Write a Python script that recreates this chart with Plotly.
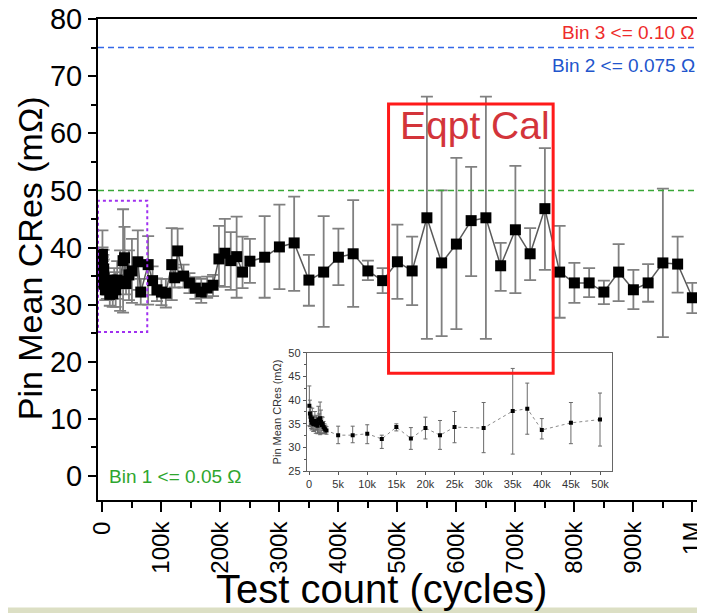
import plotly.graph_objects as go

# ---------------- data (test count in thousands of cycles, resistance in mOhm) ----------------
cycles_k = [0.05, 0.15, 0.25, 0.35, 0.45, 0.55, 0.7, 0.85, 1.0, 1.15, 1.3, 1.45, 1.6, 1.75, 1.9,
            2.05, 2.2, 2.35, 2.5, 2.65, 2.8, 3.0,
            5, 7.5, 10, 12.5, 15, 17.5, 20, 22.5, 25, 30, 35, 37.5, 40, 45, 50,
            60, 65, 77.5, 85, 92.5, 100, 107.5, 117.5, 122.5, 127.5, 137.5, 147.5, 157.5, 167.5,
            177.5, 187.5, 197.5, 207.5, 217.5, 227.5, 237.5, 250, 275, 300, 325, 350, 375, 400,
            425, 450, 475, 500, 525, 550, 575, 600, 625, 650, 675, 700, 725, 750, 775, 800, 825,
            850, 875, 900, 925, 950, 975, 1000]
mean_cres = [38.8, 37.2, 36.5, 35.8, 35.2, 36.1, 35.0, 34.9, 35.6, 34.8, 35.3, 34.6, 35.9, 35.1, 36.2,
             35.4, 34.7, 35.0, 34.3, 34.0, 33.8, 33.6,
             32.6, 32.6, 32.9, 31.8, 34.3, 31.9, 34.1, 32.6, 34.3, 34.1, 37.7, 38.2, 33.7, 35.2, 35.9,
             37.5, 32.2, 37.0, 34.2, 32.6, 32.2, 32.0, 37.0, 34.7, 39.4, 35.0, 33.8, 32.9, 32.2,
             32.9, 33.4, 38.0, 39.0, 37.7, 38.4, 35.7, 37.6, 38.3, 40.1, 40.8, 34.3, 35.7, 38.3,
             38.9, 35.9, 34.2, 37.5, 35.9, 45.2, 37.3, 40.6, 44.7, 45.2, 36.8, 43.1, 38.9, 46.8, 35.7, 33.8, 33.8,
             32.2, 35.7, 32.6, 33.8, 37.3, 37.1, 31.2]
err_upper = [43.0, 40.0, 38.5, 37.6, 36.8, 38.3, 36.6, 36.4, 37.6, 36.6, 36.8, 36.3, 38.7, 37.1, 39.6,
             37.9, 36.5, 36.4, 35.5, 35.0, 34.7, 34.4,
             34.5, 34.5, 34.8, 32.6, 35.0, 34.2, 36.4, 35.7, 37.6, 39.5, 46.7, 43.6, 36.1, 39.5, 41.5,
             43.0, 34.5, 42.0, 36.7, 34.6, 34.5, 34.5, 43.4, 36.5, 43.3, 37.0, 35.5, 34.8, 34.5,
             34.9, 35.2, 43.8, 45.0, 42.7, 45.4, 41.9, 41.5, 45.5, 47.5, 48.9, 38.7, 45.5, 43.3,
             48.3, 37.7, 36.4, 44.0, 41.9, 66.4, 50.0, 55.7, 54.1, 66.4, 40.8, 54.3, 43.4, 57.4, 43.8, 37.3, 36.4,
             34.2, 40.6, 36.1, 37.1, 50.3, 41.9, 33.8]
err_lower = [34.6, 34.4, 34.5, 34.0, 33.7, 33.9, 33.4, 33.4, 33.6, 33.0, 33.8, 32.9, 33.1, 33.1, 32.7,
             32.9, 32.9, 33.6, 33.1, 33.0, 32.9, 32.8,
             30.8, 31.0, 30.8, 29.8, 33.5, 29.6, 31.8, 29.6, 31.0, 28.9, 28.6, 32.8, 31.8, 30.8, 30.3,
             32.6, 30.0, 30.0, 31.7, 30.6, 29.9, 29.5, 30.8, 33.0, 34.3, 33.0, 32.0, 31.0, 30.3,
             31.2, 31.5, 33.3, 33.1, 32.6, 31.2, 32.9, 33.8, 31.2, 32.7, 32.4, 29.8, 26.1, 33.4,
             29.6, 34.3, 32.0, 31.0, 29.9, 24.0, 24.5, 25.7, 35.0, 24.0, 32.4, 32.0, 34.3, 36.1, 27.7, 30.3, 31.3,
             30.1, 30.6, 29.2, 30.5, 24.3, 32.1, 28.5]

main_tick_vals_k = [0, 100, 200, 300, 400, 500, 600, 700, 800, 900, 1000]
main_tick_text = ["0", "100k", "200k", "300k", "400k", "500k", "600k", "700k", "800k", "900k", "1M"]
inset_tick_vals_k = [0, 5, 10, 15, 20, 25, 30, 35, 40, 45, 50]
inset_tick_text = ["0", "5k", "10k", "15k", "20k", "25k", "30k", "35k", "40k", "45k", "50k"]

bin_limits = [50, 75]          # mOhm reference lines (Bin 1, Bin 2)
inset_max_k = 52

# ---------------- derived ----------------
x_all = [v * 1000 for v in cycles_k]
plus = [u - m for u, m in zip(err_upper, mean_cres)]
minus = [m - l for m, l in zip(mean_cres, err_lower)]

idx_in = [i for i, v in enumerate(cycles_k) if v <= inset_max_k]

FONT = "Liberation Sans, Arial, sans-serif"

fig = go.Figure()

fig.add_trace(go.Scatter(
    x=x_all, y=mean_cres, mode="lines+markers",
    line=dict(color="#5a5a5a", width=1.5),
    marker=dict(symbol="square", size=11, color="black"),
    error_y=dict(type="data", symmetric=False, array=plus, arrayminus=minus,
                 color="#808080", thickness=1.8, width=6),
    xaxis="x", yaxis="y", showlegend=False, hoverinfo="skip"))

fig.add_trace(go.Scatter(
    x=[x_all[i] for i in idx_in], y=[mean_cres[i] for i in idx_in], mode="lines+markers",
    line=dict(color="#8a8a8a", width=1, dash="dot"),
    marker=dict(symbol="square", size=4, color="black"),
    error_y=dict(type="data", symmetric=False, array=[plus[i] for i in idx_in],
                 arrayminus=[minus[i] for i in idx_in], color="#6a6a6a", thickness=1, width=2),
    xaxis="x2", yaxis="y2", showlegend=False, hoverinfo="skip"))

fig.update_layout(
    width=697, height=605,
    margin=dict(l=90, r=2, t=11, b=113, autoexpand=False),
    paper_bgcolor="white", plot_bgcolor="white",
    font=dict(family=FONT, color="black"),
    xaxis=dict(range=[-7500, 1018000], tickvals=[v * 1000 for v in main_tick_vals_k],
               ticktext=main_tick_text, tickangle=-90, tickfont=dict(size=24),
               ticklabeloverflow="allow",
               ticks="outside", ticklen=10, tickwidth=2, tickcolor="black",
               minor=dict(ticks="outside", ticklen=6, tickwidth=2, tickcolor="black",
                          dtick=50000, tick0=0, showgrid=False),
               showline=True, linewidth=2, linecolor="black", mirror=True,
               showgrid=False, zeroline=False, automargin=False),
    yaxis=dict(range=[-4.2, 80], tickvals=[0, 10, 20, 30, 40, 50, 60, 70, 80],
               tickfont=dict(size=29), ticklabeloverflow="allow",
               ticks="outside", ticklen=8, tickwidth=2, tickcolor="black",
               minor=dict(ticks="outside", ticklen=5, tickwidth=2, tickcolor="black",
                          dtick=5, tick0=0, showgrid=False),
               showline=True, linewidth=2, linecolor="black", mirror=True,
               showgrid=False, zeroline=False, automargin=False),
    xaxis2=dict(domain=[0.345, 0.849], anchor="y2", range=[-400, inset_max_k * 1000],
                tickvals=[v * 1000 for v in inset_tick_vals_k], ticktext=inset_tick_text,
                tickfont=dict(size=11, color="#333"), ticks="outside", ticklen=3,
                tickcolor="#555", showline=True, linewidth=1, linecolor="#666", mirror=True,
                showgrid=False, zeroline=False, automargin=False),
    yaxis2=dict(domain=[0.060, 0.306], anchor="x2", range=[25, 50], dtick=5,
                tickfont=dict(size=11, color="#333"), ticks="outside", ticklen=3,
                tickcolor="#555", showline=True, linewidth=1, linecolor="#666", mirror=True,
                minor=dict(ticks="outside", ticklen=2, dtick=2.5, tickcolor="#555"),
                title=dict(text="Pin Mean CRes (mΩ)", font=dict(size=11, color="#333"), standoff=4),
                showgrid=False, zeroline=False, automargin=False),
)

shapes = [
    # beige strip along the bottom edge of the page
    dict(type="rect", xref="paper", yref="paper", x0=-0.2, x1=1.05, y0=-0.26, y1=-0.2235,
         fillcolor="#dcdfc4", line=dict(width=0), layer="below"),
    dict(type="line", xref="paper", yref="y", x0=0, x1=1, y0=bin_limits[0], y1=bin_limits[0],
         line=dict(color="#3aa637", width=1.5, dash="6px,4px")),
    dict(type="line", xref="paper", yref="y", x0=0, x1=1, y0=bin_limits[1], y1=bin_limits[1],
         line=dict(color="#3468e8", width=1.5, dash="6px,4px")),
    dict(type="rect", xref="x", yref="y", x0=485000, x1=764000, y0=18.0, y1=65.1,
         line=dict(color="#ff1a1a", width=3)),
    dict(type="rect", xref="x", yref="y", x0=-7500, x1=76000, y0=25.2, y1=48.2,
         line=dict(color="#a030f0", width=2, dash="dot")),
]
fig.update_layout(shapes=shapes)

annotations = [
    dict(text="Bin 3 <= 0.10 Ω", xref="paper", yref="y", x=0.99, y=77.6, xanchor="right",
         yanchor="middle", showarrow=False, font=dict(size=19, color="#ee2b2b")),
    dict(text="Bin 2 <= 0.075 Ω", xref="paper", yref="y", x=0.99, y=71.8, xanchor="right",
         yanchor="middle", showarrow=False, font=dict(size=19, color="#2255cc")),
    dict(text="Bin 1 <= 0.05 Ω", xref="x", yref="y", x=7000, y=0, xanchor="left",
         yanchor="middle", showarrow=False, font=dict(size=19, color="#2ea62e")),
    dict(text="Eqpt Cal", xref="x", yref="y", x=632000, y=61.3, xanchor="center",
         yanchor="middle", showarrow=False, font=dict(size=39, color="#d3343a")),
    dict(text="Test count (cycles)", xref="paper", yref="paper", x=0.468, y=-0.185,
         xanchor="center", yanchor="middle", showarrow=False, font=dict(size=40)),
    dict(text="Pin Mean CRes (mΩ)", xref="paper", yref="paper", x=-0.112, y=0.503,
         xanchor="center", yanchor="middle", textangle=-90, showarrow=False, font=dict(size=34)),
]
fig.update_layout(annotations=annotations)

fig.write_html("out.html")
